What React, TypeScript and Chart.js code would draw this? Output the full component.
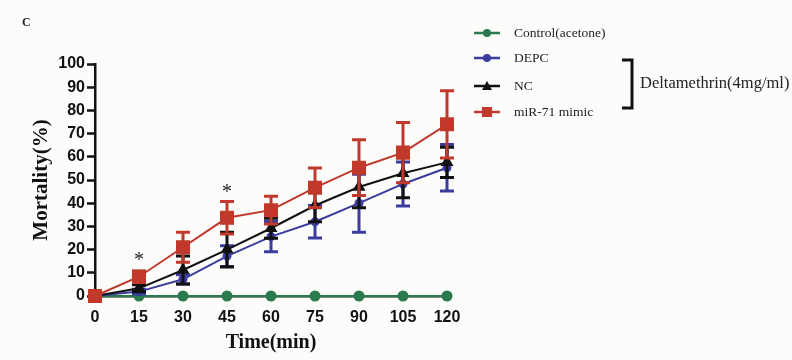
import React, { useEffect, useRef } from "react";
import { Chart, registerables } from "chart.js";
Chart.register(...registerables);

const times = [0, 15, 30, 45, 60, 75, 90, 105, 120];
const controlValues = [0, 0, 0, 0, 0, 0, 0, 0, 0];
const controlErrors = [0, 0, 0, 0, 0, 0, 0, 0, 0];
const depcValues = [0, 1.9, 7.2, 17.2, 25.6, 32, 40, 48.3, 55.3];
const depcErrors = [0, 1, 2, 4.5, 6.5, 7, 12.5, 9.5, 10];
const ncValues = [0, 3.3, 11.2, 20, 29.2, 39, 47, 52.9, 57.6];
const ncErrors = [0, 1.5, 6, 7.5, 4.3, 7, 9, 10.5, 6.5];
const mimicValues = [0, 8.3, 21, 33.7, 37, 46.7, 55.3, 61.8, 74];
const mimicErrors = [0, 2.5, 6.5, 7, 6, 8.5, 12, 13, 14.5];
const seriesNames = ["Control(acetone)", "DEPC", "NC", "miR-71 mimic"];
const groupLabel = "Deltamethrin(4mg/ml)";
const starTimes = [15, 45];
const starLevels = [16.4, 45.7];
const panelLabel = "C";
const yMin = 0, yMax = 100, yStep = 10;
const xMin = 0, xMax = 120, xStep = 15;

const GREEN = "#2a7a4e";
const BLUE = "#3a3c9e";
const BLACK = "#111111";
const RED = "#c0392b";

export default function App() {
  const ref = useRef<HTMLCanvasElement>(null);
  useEffect(() => {
    const canvas = ref.current!;
    const mk = (vals: number[]) => vals.map((v, i) => ({ x: times[i], y: v }));
    const errs = [controlErrors, depcErrors, ncErrors, mimicErrors];

    const bgPlugin = {
      id: "bg",
      beforeDraw(chart: any) {
        const c = chart.ctx;
        c.save();
        c.fillStyle = "#fcfcfa";
        c.fillRect(0, 0, chart.width, chart.height);
        c.restore();
      },
    };

    const errPlugin = {
      id: "err",
      beforeDatasetDraw(chart: any, args: any) {
        const i = args.index;
        const ds = chart.data.datasets[i];
        const e = errs[i];
        const xs = chart.scales.x, ys = chart.scales.y;
        const c = chart.ctx;
        c.save();
        c.strokeStyle = ds.borderColor;
        c.lineWidth = 3;
        ds.data.forEach((p: any, k: number) => {
          if (!e[k]) return;
          const px = xs.getPixelForValue(p.x);
          const top = ys.getPixelForValue(p.y + e[k]);
          const bot = ys.getPixelForValue(Math.max(0, p.y - e[k]));
          c.beginPath();
          c.moveTo(px, top); c.lineTo(px, bot);
          c.moveTo(px - 7, top); c.lineTo(px + 7, top);
          c.moveTo(px - 7, bot); c.lineTo(px + 7, bot);
          c.stroke();
        });
        c.restore();
      },
    };

    const extrasPlugin = {
      id: "extras",
      afterDraw(chart: any) {
        const c = chart.ctx;
        const xs = chart.scales.x, ys = chart.scales.y;
        c.save();
        // asterisks
        c.fillStyle = "#222";
        c.font = "20px 'Liberation Serif'";
        c.textAlign = "center";
        c.textBaseline = "middle";
        starTimes.forEach((t, k) => {
          c.fillText("*", xs.getPixelForValue(t), ys.getPixelForValue(starLevels[k]) + 3);
        });
        // panel label
        c.font = "bold 12px 'Liberation Serif'";
        c.textAlign = "left";
        c.fillStyle = "#222";
        c.fillText(panelLabel, 22, 23);
        // legend
        const rows = [33, 58, 86, 112];
        chart.data.datasets.forEach((ds: any, i: number) => {
          const y = rows[i];
          c.strokeStyle = ds.borderColor;
          c.lineWidth = 2.5;
          c.beginPath();
          c.moveTo(474, y); c.lineTo(500, y);
          c.stroke();
          c.fillStyle = ds.pointBackgroundColor;
          const cx = 487;
          c.beginPath();
          if (ds.pointStyle === "circle") {
            c.arc(cx, y, 4, 0, Math.PI * 2);
          } else if (ds.pointStyle === "triangle") {
            c.moveTo(cx, y - 5); c.lineTo(cx + 5, y + 4); c.lineTo(cx - 5, y + 4); c.closePath();
          } else {
            c.rect(cx - 5, y - 5, 10, 10);
          }
          c.fill();
          c.fillStyle = "#222";
          c.font = "13.5px 'Liberation Serif'";
          c.textAlign = "left";
          c.textBaseline = "middle";
          c.fillText(seriesNames[i], 514, y);
        });
        // bracket
        c.strokeStyle = "#111";
        c.lineWidth = 3;
        c.beginPath();
        c.moveTo(622, 60); c.lineTo(632, 60); c.lineTo(632, 108); c.lineTo(622, 108);
        c.stroke();
        c.fillStyle = "#222";
        c.font = "16.5px 'Liberation Serif'";
        c.fillText(groupLabel, 640, 84);
        c.restore();
      },
    };

    const chart = new Chart(canvas, {
      type: "line",
      data: {
        datasets: [
          { label: seriesNames[0], data: mk(controlValues), borderColor: GREEN, backgroundColor: GREEN, pointBackgroundColor: GREEN, pointBorderColor: GREEN, pointStyle: "circle", pointRadius: 4.5, borderWidth: 2, order: 4, clip: false },
          { label: seriesNames[1], data: mk(depcValues), borderColor: BLUE, backgroundColor: BLUE, pointBackgroundColor: BLUE, pointBorderColor: BLUE, pointStyle: "circle", pointRadius: 3.5, borderWidth: 2, order: 3, clip: false },
          { label: seriesNames[2], data: mk(ncValues), borderColor: BLACK, backgroundColor: BLACK, pointBackgroundColor: BLACK, pointBorderColor: BLACK, pointStyle: "triangle", pointRadius: 5.5, borderWidth: 2, order: 2, clip: false },
          { label: seriesNames[3], data: mk(mimicValues), borderColor: RED, backgroundColor: RED, pointBackgroundColor: RED, pointBorderColor: RED, pointStyle: "rect", pointRadius: 8.5, borderWidth: 2, order: 1, clip: false },
        ] as any,
      },
      options: {
        responsive: false,
        animation: false,
        layout: { padding: { left: 0, top: 64, right: 345, bottom: 0 } },
        plugins: { legend: { display: false }, tooltip: { enabled: false } },
        scales: {
          x: {
            type: "linear",
            min: xMin,
            max: xMax,
            afterFit: (s: any) => { s.height = 64; },
            ticks: { stepSize: xStep, color: "#111", font: { family: "'Liberation Sans'", weight: "bold", size: 16 }, padding: 12 },
            grid: { display: true, drawOnChartArea: false, drawTicks: false },
            border: { color: "#111", width: 2.5 },
            title: { display: true, text: "Time(min)", color: "#111", font: { family: "'Liberation Serif'", weight: "bold", size: 20 }, padding: { top: 0, bottom: 5 } },
          },
          y: {
            min: yMin,
            max: yMax,
            afterFit: (s: any) => { s.width = 95; },
            ticks: { stepSize: yStep, color: "#111", font: { family: "'Liberation Sans'", weight: "bold", size: 16 }, padding: 2 },
            grid: { display: true, drawOnChartArea: false, drawTicks: true, tickLength: 8, tickWidth: 2.5, tickColor: "#111" },
            border: { color: "#111", width: 2.5 },
            title: { display: true, text: "Mortality(%)", color: "#111", font: { family: "'Liberation Serif'", weight: "bold", size: 21 }, padding: { top: 29, bottom: 0 } },
          },
        },
      } as any,
      plugins: [bgPlugin, errPlugin, extrasPlugin],
    });
    return () => chart.destroy();
  }, []);
  return (
    <div style={{ position: "fixed", left: 0, top: 0, width: 792, height: 360, background: "#fcfcfa" }}>
      <canvas ref={ref} width={792} height={360} style={{ display: "block" }} />
    </div>
  );
}
